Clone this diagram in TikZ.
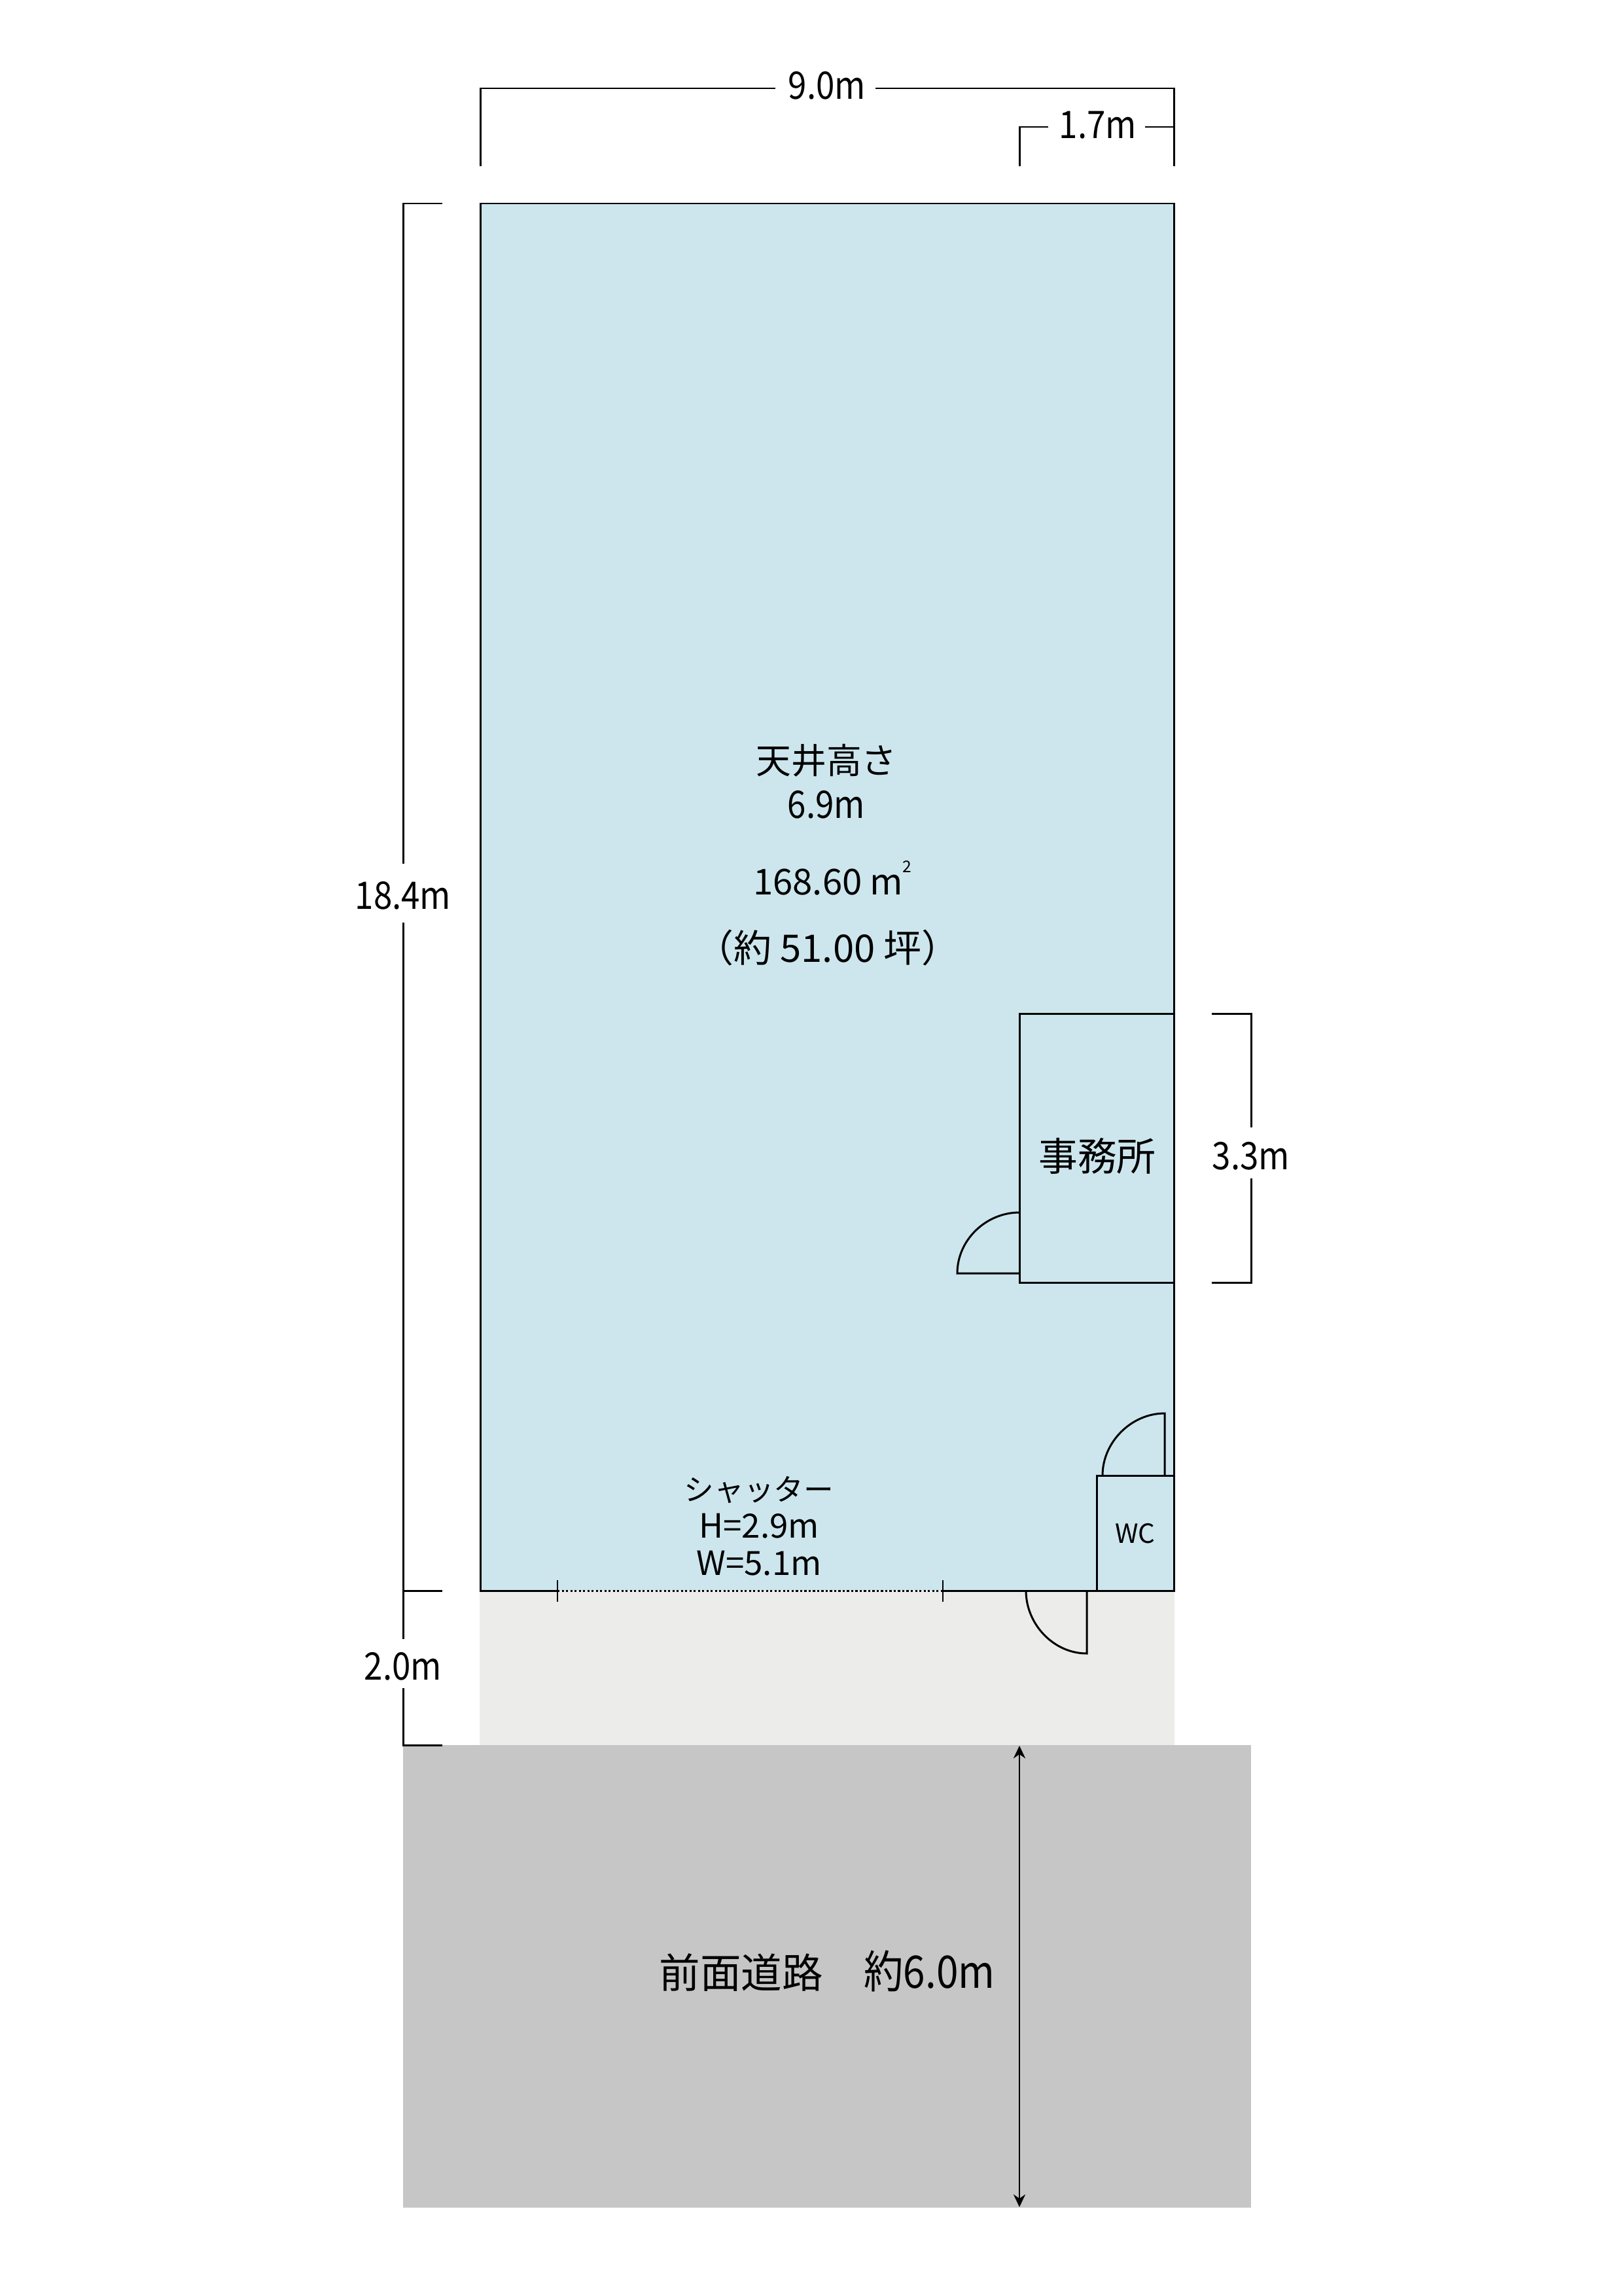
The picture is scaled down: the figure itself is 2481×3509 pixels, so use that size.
\documentclass[tikz,border=0pt]{standalone}
\usepackage{fontspec}
\setmainfont{Noto Sans CJK JP}
\newfontfamily\narrowfont[FakeStretch=0.88]{Noto Sans CJK JP}
\usetikzlibrary{arrows.meta}
\definecolor{roomblue}{HTML}{CDE6EE}
\definecolor{apron}{HTML}{ECECEA}
\definecolor{road}{HTML}{C6C6C6}
\tikzset{
  wall/.style={draw=black,line width=0.85pt},
  dimline/.style={draw=black,line width=0.85pt},
  label/.style={inner sep=0pt,align=center,text=black},
  lblb/.style={label,font=\narrowfont\fontsize{16.5pt}{16.5pt}\selectfont},
  lblm/.style={label,font=\fontsize{16.5pt}{16.5pt}\selectfont},
  lblk/.style={label,font=\fontsize{15.3pt}{15.3pt}\selectfont},
  lblc/.style={label,font=\fontsize{11.5pt}{11.5pt}\selectfont},
  lblo/.style={label,font=\fontsize{17pt}{17pt}\selectfont},
  lbls/.style={label,font=\fontsize{14.5pt}{14.5pt}\selectfont},
  lblr/.style={label,font=\fontsize{17.8pt}{17.8pt}\selectfont},
}
\begin{document}
\begin{tikzpicture}[x=0.01cm,y=-0.01cm]
\useasboundingbox (0,0) rectangle (2481,3509);
% areas
\fill[apron] (733,2431) rectangle (1795,2667);
\fill[road] (616,2667) rectangle (1912,3374);
\path[fill=roomblue] (734,311) rectangle (1794,2431);
% main outline, with the shutter opening left open
\draw[wall] (852,2431) -- (734,2431) -- (734,311) -- (1794,311) -- (1794,2431) -- (1441,2431);
\draw[line width=0.85pt,dash pattern=on 0.9pt off 0.95pt] (852,2431) -- (1441,2431);
\draw[line width=0.6pt] (852,2415) -- (852,2448);
\draw[line width=0.6pt] (1441,2415) -- (1441,2448);
% office, WC
\draw[wall] (1558,1549) rectangle (1794,1960);
\draw[wall] (1676,2255) rectangle (1794,2431);
% doors
\draw[wall] (1558,1946) -- (1463,1946) .. controls (1463,1895) and (1507,1853) .. (1558,1853);
\draw[wall] (1685,2255) .. controls (1685,2204) and (1729,2160) .. (1780,2160) -- (1780,2255);
\draw[wall] (1568,2431) .. controls (1568,2482) and (1610,2527) .. (1661,2527) -- (1661,2431);
% top dimensions
\coordinate (t9a) at (734,254); \coordinate (t9b) at (734,135); \coordinate (t9c) at (1185,135);
\coordinate (t9d) at (1338,135); \coordinate (t9e) at (1794,135); \coordinate (t9f) at (1794,254);
\draw[dimline] (t9a) -- (t9b) -- (t9c) (t9d) -- (t9e) -- (t9f);
\node[lblb] (dimnine) at (1264,131) {9.0m};
\coordinate (t1a) at (1558,254); \coordinate (t1b) at (1558,194); \coordinate (t1c) at (1602,194);
\coordinate (t1d) at (1750,194); \coordinate (t1e) at (1794,194);
\draw[dimline] (t1a) -- (t1b) -- (t1c) (t1d) -- (t1e);
\node[lblb] (dimone) at (1678,191) {1.7m};
% left dimensions
\coordinate (l1) at (676,311); \coordinate (l2) at (616,311); \coordinate (l3) at (616,1320);
\coordinate (l4) at (616,1410); \coordinate (l5) at (616,2431); \coordinate (l6) at (676,2431);
\coordinate (l7) at (616,2505); \coordinate (l8) at (616,2580); \coordinate (l9) at (616,2667); \coordinate (l10) at (676,2667);
\draw[dimline] (l1) -- (l2) -- (l3) (l4) -- (l5) -- (l6) (l5) -- (l7) (l8) -- (l9) -- (l10);
\node[lblb] (dimlong) at (616,1369) {18.4m};
\node[lblb] (dimtwo) at (616,2547) {2.0m};
% right dimension
\coordinate (r1) at (1852,1549); \coordinate (r2) at (1912,1549); \coordinate (r3) at (1912,1723);
\coordinate (r4) at (1912,1801); \coordinate (r5) at (1912,1960); \coordinate (r6) at (1852,1960);
\draw[dimline] (r1) -- (r2) -- (r3) (r4) -- (r5) -- (r6);
\node[lblb] (dimoffice) at (1912,1767) {3.3m};
% road arrow
\coordinate (a1) at (1558,2668); \coordinate (a2) at (1558,3373);
\draw[line width=0.6pt,{Stealth[length=5.5pt,width=5.2pt]}-{Stealth[length=5.5pt,width=5.2pt]}] (a1) -- (a2);
% texts
\node[lblk] (ceil) at (1263,1162) {天井高さ};
\node[lblb] (ceilh) at (1263,1230) {6.9m};
\node[lblm,font=\fontsize{15.5pt}{15.5pt}\selectfont] (area) at (1272,1342) {168.60 m\kern-0.02em\raisebox{0.62em}{\fontsize{7pt}{7pt}\selectfont 2}};
\node[lblm] (tsubo) at (1265,1448) {（約 51.00 坪）};
\node[lblo] (office) at (1677,1767) {事務所};
\node[lblc] (wc) at (1735,2344) {WC};
\node[lbls,font=\fontsize{13pt}{13pt}\selectfont] (shut) at (1160,2277) {シャッター};
\node[lbls] (shuth) at (1160,2332) {H=2.9m};
\node[lbls] (shutw) at (1160,2389) {W=5.1m};
\node[lblr] (roadt) at (1264,3012) {前面道路　{\narrowfont\fontsize{19.5pt}{19.5pt}\selectfont 約6.0m}};
\end{tikzpicture}
\end{document}
